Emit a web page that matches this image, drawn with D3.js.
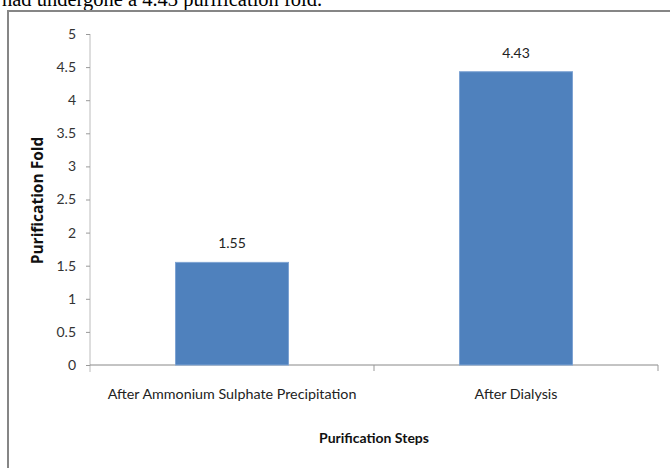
<!DOCTYPE html>
<html>
<head>
<meta charset="utf-8">
<script src="https://cdn.jsdelivr.net/npm/d3@7"></script>
<style>
  html, body { margin: 0; padding: 0; background: #fff; }
  svg { display: block; }
</style>
</head>
<body>
<svg id="chart" width="670" height="468"></svg>
<script>
// Purification fold after each step
const steps = ["After Ammonium Sulphate Precipitation", "After Dialysis"];
const folds = [1.55, 4.43];
const yTicks = [0, 0.5, 1, 1.5, 2, 2.5, 3, 3.5, 4, 4.5, 5];

const svg = d3.select("#chart");
const W = 670, H = 468;
const plot = { left: 90, right: 658, top: 34, bottom: 365 };
const chartFont = "Lato, 'Open Sans', sans-serif";

// Caption line from the surrounding text, cut off by the page edge
svg.append("text")
  .attr("x", 2).attr("y", 6)
  .attr("font-family", "'Liberation Serif', 'Times New Roman', serif")
  .attr("font-size", 20.5)
  .attr("fill", "#000")
  .text("had undergone a 4.43 purification fold.");

// Chart frame
svg.append("path")
  .attr("d", `M8,${H + 5} V11 H${W + 5}`)
  .attr("fill", "none")
  .attr("stroke", "#868686")
  .attr("stroke-width", 2);

const x = d3.scaleBand().domain(steps).range([plot.left, plot.right]).paddingInner(0).paddingOuter(0);
const y = d3.scaleLinear().domain([0, 5]).range([plot.bottom, plot.top]);

// Y axis
const yAxis = svg.append("g")
  .attr("transform", `translate(${plot.left},0)`)
  .call(d3.axisLeft(y).tickValues(yTicks).tickSize(4).tickPadding(10).tickFormat(d3.format("")));
yAxis.select(".domain").attr("stroke", "#bcbcbc").attr("d", `M0,${plot.top}V${plot.bottom + 7}`);
yAxis.selectAll(".tick line").attr("stroke", "#999");
yAxis.selectAll(".tick text")
  .attr("font-family", chartFont).attr("font-size", 14).attr("fill", "#333");

// X axis
const xAxis = svg.append("g")
  .attr("transform", `translate(0,${plot.bottom})`)
  .call(d3.axisBottom(x).tickSize(0).tickPadding(24));
xAxis.select(".domain").attr("stroke", "#888").attr("d", `M${plot.left},0H${plot.right}`);
xAxis.selectAll(".tick text")
  .attr("font-family", chartFont).attr("font-size", 14.3).attr("fill", "#222");
// category separators
svg.append("g").selectAll("line")
  .data(steps.slice(1).concat(["end"]))
  .join("line")
  .attr("x1", (d, i) => i < steps.length - 1 ? x(steps[i + 1]) : plot.right)
  .attr("x2", (d, i) => i < steps.length - 1 ? x(steps[i + 1]) : plot.right)
  .attr("y1", plot.bottom).attr("y2", plot.bottom + 6)
  .attr("stroke", "#999");

// Bars
const barW = 113;
svg.append("g").selectAll("rect")
  .data(folds)
  .join("rect")
  .attr("x", (d, i) => x(steps[i]) + x.bandwidth() / 2 - barW / 2)
  .attr("y", d => y(d))
  .attr("width", barW)
  .attr("height", d => plot.bottom - y(d))
  .attr("fill", "#4f81bd")
  .attr("stroke", "#7ea3d3")
  .attr("stroke-width", 1);

// Value labels
svg.append("g").selectAll("text")
  .data(folds)
  .join("text")
  .attr("x", (d, i) => x(steps[i]) + x.bandwidth() / 2)
  .attr("y", d => y(d) - 14)
  .attr("text-anchor", "middle")
  .attr("font-family", chartFont).attr("font-size", 14).attr("fill", "#222")
  .text(d => d.toFixed(2));

// Axis titles
svg.append("text")
  .attr("transform", `translate(43,${(plot.top + plot.bottom) / 2 + 1}) rotate(-90)`)
  .attr("text-anchor", "middle")
  .attr("font-family", "'Open Sans', sans-serif").attr("font-size", 15.5).attr("font-weight", "bold").attr("fill", "#111")
  .text("Purification Fold");

svg.append("text")
  .attr("x", (plot.left + plot.right) / 2).attr("y", 443)
  .attr("text-anchor", "middle")
  .attr("font-family", chartFont).attr("font-size", 14).attr("font-weight", "bold").attr("fill", "#111")
  .text("Purification Steps");
</script>
</body>
</html>
